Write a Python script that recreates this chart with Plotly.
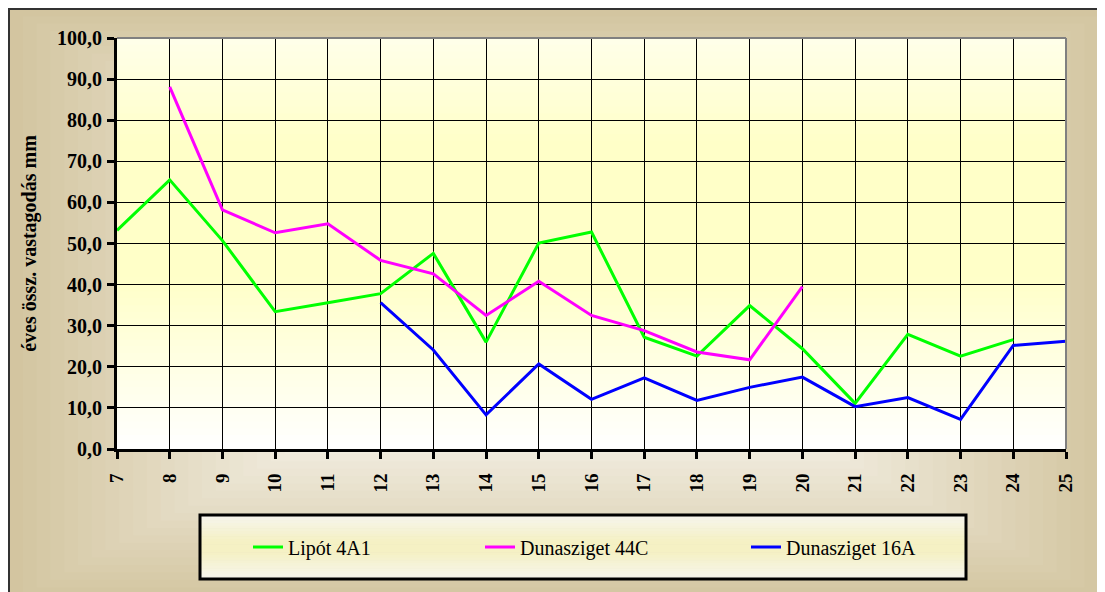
import plotly.graph_objects as go

# ---------------- data ----------------
lipot_x = list(range(7, 25))
lipot_y = [53.2, 65.5, 50.7, 33.4, 35.6, 37.8, 47.6, 26.0, 50.1, 52.8,
           27.2, 22.6, 34.9, 24.4, 11.1, 27.9, 22.6, 26.6]

duna44_x = list(range(8, 21))
duna44_y = [88.1, 58.2, 52.6, 54.8, 45.9, 42.6, 32.5, 40.8, 32.5, 28.8,
            23.6, 21.7, 39.5]

duna16_x = list(range(12, 26))
duna16_y = [35.6, 24.1, 8.3, 20.7, 12.1, 17.3, 11.8, 15.0, 17.5, 10.3,
            12.5, 7.2, 25.2, 26.2]

series_names = ["Lipót 4A1", "Dunasziget 44C", "Dunasziget 16A"]
series_colors = ["#00FF00", "#FF00FF", "#0000FF"]
y_title = "éves össz. vastagodás mm"

# ---------------- geometry ----------------
# the page body has an 8px margin, so figure coords = page coords - 8
OFF = 8
W, H = 1105 - OFF, 592 - OFF
PL, PR, PT, PB = 117 - OFF, 1066 - OFF, 38 - OFF, 449 - OFF   # plot area


def px(x):
    return (x - OFF - PL) / (PR - PL)


def py(y):
    return (PB - (y - OFF)) / (PB - PT)


def lerp(c1, c2, t):
    t = max(0.0, min(1.0, t))
    return "rgb(%d,%d,%d)" % tuple(round(a + (b - a) * t) for a, b in zip(c1, c2))


shapes = []

# outer frame rectangular gradient (page pixel coords)
fx0, fy0, fx1, fy1 = 9, 9, 1112, 602
cx, cy = (fx0 + fx1) / 2, (fy0 + fy1) / 2
hw, hh = (fx1 - fx0) / 2, (fy1 - fy0) / 2
edge = (211, 197, 160)
center = (243, 239, 227)
N = 40
for k in range(N):
    t = k / N
    shapes.append(dict(type="rect", xref="paper", yref="paper", layer="below",
                       x0=px(cx - hw * (1 - t)), x1=px(cx + hw * (1 - t)),
                       y0=py(cy + hh * (1 - t)), y1=py(cy - hh * (1 - t)),
                       fillcolor=lerp(edge, center, t / 0.55), line=dict(width=0)))
# frame border
shapes.append(dict(type="rect", xref="paper", yref="paper", layer="below",
                   x0=px(fx0), x1=px(fx1), y0=py(fy1), y1=py(fy0),
                   fillcolor="rgba(0,0,0,0)", line=dict(color="#333333", width=2)))

# plot area vertical gradient
white = (255, 255, 255)
yellow = (255, 255, 200)
M = 60
for k in range(M):
    f0, f1 = k / M, (k + 1) / M
    fm = (f0 + f1) / 2
    s = 1.4 * (1 - abs(fm - 0.58) / 0.58)
    shapes.append(dict(type="rect", xref="paper", yref="paper", layer="below",
                       x0=0, x1=1, y0=f0, y1=f1 + 0.002,
                       fillcolor=lerp(white, yellow, s), line=dict(width=0)))

# legend box gradient
lx0, lx1, ly0, ly1 = 200, 966, 515, 579
L = 24
ltop = (246, 245, 238)
lmid = (245, 241, 196)
for k in range(L):
    a0 = ly0 + (ly1 - ly0) * k / L
    a1 = ly0 + (ly1 - ly0) * (k + 1) / L
    fm = (k + 0.5) / L
    s = 1.2 * (1 - abs(fm - 0.5) / 0.5)
    shapes.append(dict(type="rect", xref="paper", yref="paper", layer="below",
                       x0=px(lx0), x1=px(lx1), y0=py(a1 + 0.5), y1=py(a0),
                       fillcolor=lerp(ltop, lmid, s), line=dict(width=0)))
shapes.append(dict(type="rect", xref="paper", yref="paper", layer="above",
                   x0=px(lx0), x1=px(lx1), y0=py(ly1), y1=py(ly0),
                   fillcolor="rgba(0,0,0,0)", line=dict(color="#000000", width=3)))

# gray plot border (top, right)
shapes.append(dict(type="line", xref="paper", yref="paper", layer="above",
                   x0=0, x1=1, y0=1, y1=1, line=dict(color="#808080", width=2)))
shapes.append(dict(type="line", xref="paper", yref="paper", layer="above",
                   x0=1, x1=1, y0=0, y1=1, line=dict(color="#808080", width=2)))

fig = go.Figure()
xs = [lipot_x, duna44_x, duna16_x]
ys = [lipot_y, duna44_y, duna16_y]
legend_ids = ["legend", "legend2", "legend3"]
for i in range(3):
    fig.add_trace(go.Scatter(x=xs[i], y=ys[i], mode="lines", name=series_names[i],
                             line=dict(color=series_colors[i], width=3),
                             legend=legend_ids[i], showlegend=True))

legend_font = dict(family="Liberation Serif", size=20, color="#000000")
leg_px = [248, 480, 746]
leg_common = dict(bgcolor="rgba(0,0,0,0)", borderwidth=0, font=legend_font,
                  xanchor="left", yanchor="middle", y=py(547))

fig.update_layout(
    width=W, height=H,
    margin=dict(l=PL, r=W - PR, t=PT, b=H - PB, autoexpand=False),
    paper_bgcolor="#FFFFFF",
    plot_bgcolor="rgba(0,0,0,0)",
    separators=", ",
    shapes=shapes,
    legend=dict(x=px(leg_px[0]), **leg_common),
    legend2=dict(x=px(leg_px[1]), **leg_common),
    legend3=dict(x=px(leg_px[2]), **leg_common),
    xaxis=dict(range=[7, 25], dtick=1, tick0=7, tickangle=-90,
               showline=True, linecolor="#000000", linewidth=3,
               showgrid=True, gridcolor="#000000", gridwidth=1,
               ticks="outside", ticklen=7, tickwidth=3, tickcolor="#000000",
               ticklabelstandoff=7,
               tickfont=dict(family="Liberation Serif", size=19, color="#000000",
                             weight="bold"),
               zeroline=False),
    yaxis=dict(range=[0, 100], dtick=10, tick0=0, tickformat=".1f",
               showline=True, linecolor="#000000", linewidth=3,
               showgrid=True, gridcolor="#000000", gridwidth=1,
               ticks="outside", ticklen=7, tickwidth=3, tickcolor="#000000",
               ticklabelstandoff=1,
               tickfont=dict(family="Liberation Serif", size=20, color="#000000",
                             weight="bold"),
               title=dict(text=y_title, standoff=16,
                          font=dict(family="Liberation Serif", size=20, color="#000000",
                                    weight="bold")),
               zeroline=False),
)

fig.write_html("out.html")
